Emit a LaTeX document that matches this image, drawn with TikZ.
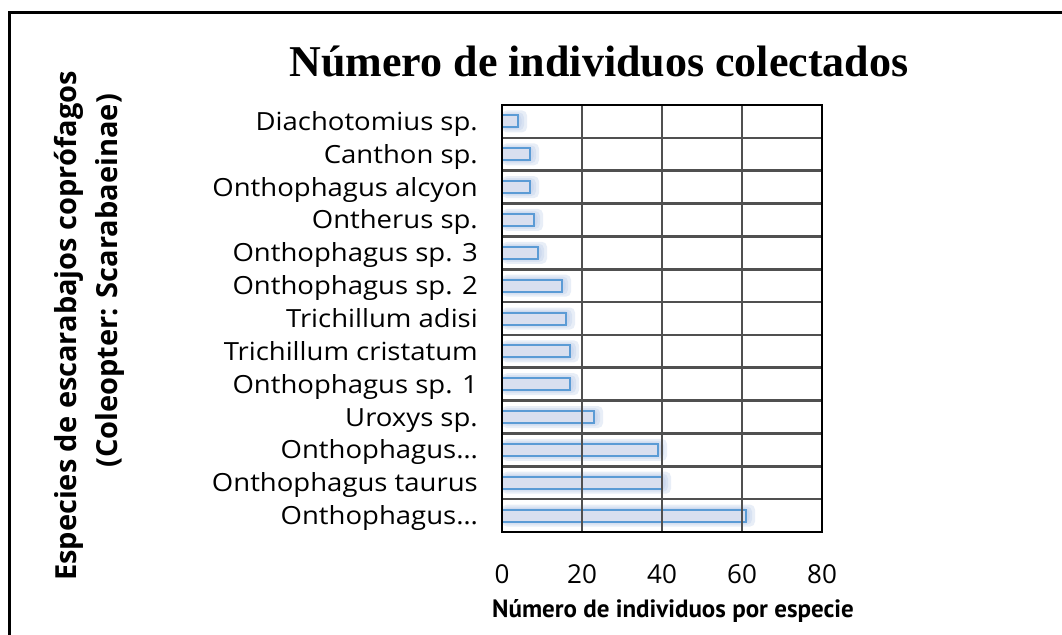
\documentclass[tikz,border=0pt]{standalone}
\usepackage{fontspec}
\setmainfont{Open Sans}
\newfontfamily\labfont[FakeStretch=1.1]{Open Sans}
\newfontfamily\xtfont{PT Sans}
\newfontfamily\ttlfont{Liberation Serif}
\definecolor{barfill}{HTML}{D9DFEF}
\definecolor{barline}{HTML}{5B9BD5}
\definecolor{glowc}{HTML}{B4C7E7}
\definecolor{gridc}{HTML}{505050}
\begin{document}
\begin{tikzpicture}[x=1pt,y=-1pt,
  lab/.style={font=\labfont\fontsize{25}{28}\selectfont, anchor=base east, inner sep=0pt},
  tick/.style={font=\fontsize{26}{28}\selectfont, anchor=base, inner sep=0pt},
  xtitle/.style={font=\xtfont\bfseries\fontsize{25}{28}\selectfont, inner sep=0pt},
  ytitle/.style={font=\bfseries\fontsize{29}{32}\selectfont, inner sep=0pt},
  bar/.style={draw=barline, line width=2pt, fill=barfill},
  glow/.style={fill=glowc, fill opacity=0.3, draw=none, rounded corners=5pt},
  grid/.style={draw=gridc, line width=2.6pt},
  frame/.style={draw=black, line width=3pt}]
\useasboundingbox (0,0) rectangle (1062,634);
\fill[white] (0,0) rectangle (1062,634);
\draw[frame] (9.5,640) -- (9.5,12.5) -- (1070,12.5);
% title
\node[font=\ttlfont\bfseries\fontsize{44}{50}\selectfont, anchor=base, inner sep=0pt] (title) at (599,77) {Número de individuos colectados};
% bars
\def\xo{502}\def\rowh{32.846}
\foreach \v [count=\i from 0] in {4,7,7,8,9,15,16,17,17,23,39,40,61} {
  \pgfmathsetmacro{\yc}{105+(\i+0.5)*\rowh}
  \pgfmathsetmacro{\xe}{\xo+4*\v}
  \fill[glow] (\xo,\yc-11) rectangle (\xe+9,\yc+11);
  \fill[glow] (\xo,\yc-9) rectangle (\xe+6,\yc+9);
  \fill[glow] (\xo,\yc-7.5) rectangle (\xe+3.5,\yc+7.5);
  \draw[bar] (\xo,\yc-6) rectangle (\xe,\yc+6);
}
% grid
\foreach \k in {1,...,12} {
  \pgfmathsetmacro{\yy}{105+\k*\rowh}
  \draw[grid] (\xo,\yy) -- (822,\yy);
}
\foreach \gx in {582,662,742} \draw[grid] (\gx,105) -- (\gx,532);
\draw[black, line width=2.5pt] (502,105) rectangle (822,532);
% labels
\foreach \t [count=\i from 0] in {Diachotomius sp.,Canthon sp.,Onthophagus alcyon,Ontherus sp.,Onthophagus sp. 3,Onthophagus sp. 2,Trichillum adisi,Trichillum cristatum,Onthophagus sp. 1,Uroxys sp.,Onthophagus…,Onthophagus taurus,Onthophagus…} {
  \pgfmathsetmacro{\yb}{105+(\i+0.5)*\rowh+9}
  \node[lab] (l\i) at (478,\yb) {\t};
}
% ticks
\foreach \n/\tx in {0/502,20/582,40/662,60/742,80/822}
  \node[tick] (t\n) at (\tx,583) {\n};
% axis titles
\node[xtitle, anchor=base] (xt) at (673,617) {Número de individuos por especie};
\node[ytitle, anchor=base, rotate=90] (yt1) at (76,326) {Especies de escarabajos coprófagos};
\node[ytitle, anchor=base, rotate=90] (yt2) at (117,281) {(Coleopter: Scarabaeinae)};
\end{tikzpicture}
\end{document}
